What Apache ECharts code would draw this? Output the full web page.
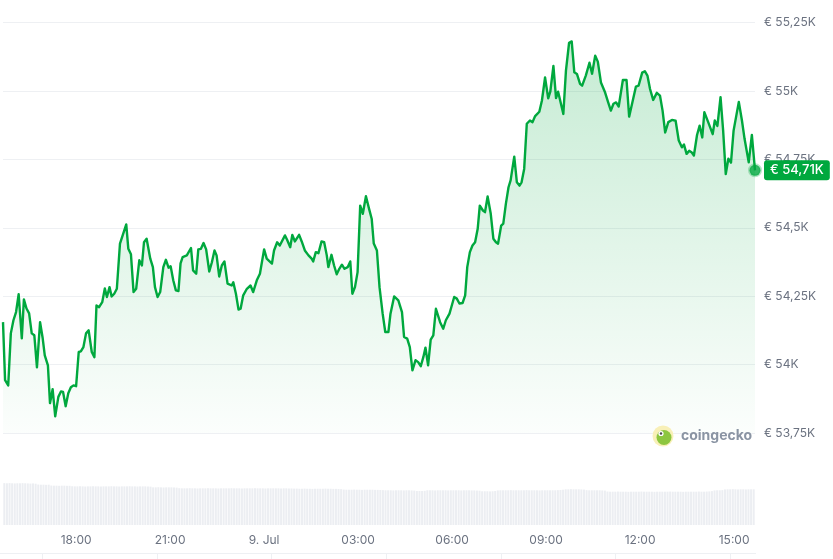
<!DOCTYPE html>
<html><head><meta charset="utf-8">
<script src="https://cdn.jsdelivr.net/npm/echarts/dist/echarts.min.js"></script>
<style>html,body{margin:0;padding:0;background:#fff}#c{width:833px;height:559px}</style>
</head><body><div id="c"></div>
<script>
// minutes since 8 Jul 15:40
const minutes = [0,4,10,15,20,25,30,36,40,45,50,55,60,65,71,76,80,86,90,95,100,106,111,115,120,125,130,135,140,145,149,154,159,164,170,175,179,184,190,195,199,204,208,213,218,224,236,240,245,250,255,261,266,270,275,282,287,291,296,301,307,312,317,321,326,331,336,340,344,352,360,364,370,374,379,384,389,395,400,405,409,414,419,424,430,438,441,446,451,455,460,467,474,479,486,492,500,505,515,519,525,530,540,544,550,554,559,567,572,578,585,591,594,599,604,610,615,620,623,629,634,639,644,649,654,660,665,669,674,679,684,689,695,701,706,710,716,721,727,732,738,742,749,757,764,768,774,779,784,790,795,800,805,809,814,819,824,829,837,843,848,855,859,864,869,874,880,885,889,894,899,904,909,913,919,923,928,934,939,944,948,954,958,963,968,972,979,984,989,993,998,1003,1009,1014,1019,1027,1032,1038,1044,1048,1054,1059,1063,1073,1078,1084,1089,1094,1099,1105,1109,1116,1123,1128,1134,1139,1145,1153,1159,1164,1169,1174,1179,1187,1194,1199,1206,1212,1217,1224,1229,1234,1239,1245,1252,1258,1263,1268,1274,1281,1288,1294,1300,1304,1309,1314,1319,1323,1329,1334,1339,1343,1350,1359,1363,1368,1374,1379,1384,1389,1394,1399,1409,1415,1420,1428,1434,1440];
const prices = [54155,53943,53924,54114,54162,54192,54257,54096,54238,54205,
54187,54114,54107,53990,54155,54096,54034,53997,53859,53910,
53811,53882,53902,53900,53848,53895,53917,53924,53921,54046,
54048,54064,54114,54125,54046,54027,54216,54210,54228,54278,
54247,54283,54249,54259,54277,54442,54512,54423,54403,54265,
54277,54381,54362,54447,54460,54387,54356,54283,54247,54265,
54356,54383,54354,54359,54308,54271,54269,54370,54393,54399,
54426,54344,54332,54421,54423,54444,54421,54340,54374,54417,
54399,54322,54362,54377,54296,54289,54301,54259,54201,54204,
54253,54277,54289,54265,54308,54332,54421,54387,54369,54417,
54447,54435,54472,54456,54429,54474,54450,54474,54450,54417,
54399,54387,54377,54411,54407,54450,54447,54399,54356,54401,
54362,54330,54350,54365,54350,54356,54377,54259,54283,54338,
54581,54551,54615,54569,54533,54442,54417,54283,54186,54119,
54119,54186,54249,54235,54192,54101,54095,54064,53979,54016,
54009,53994,54028,54062,53997,54091,54107,54204,54155,54131,
54162,54186,54213,54247,54241,54223,54225,54253,54356,54411,
54435,54447,54496,54581,54563,54557,54614,54551,54460,54447,
54442,54508,54515,54588,54648,54673,54760,54666,54654,54666,
54715,54880,54892,54886,54908,54924,54965,55049,54973,54997,
55091,54974,54997,54916,55074,55176,55181,55068,55062,55026,
55019,55056,55103,55063,55129,55107,55031,54994,54957,54928,
54953,54958,54943,55040,55040,54906,54965,55016,55019,55067,
55072,55056,55007,54967,54993,54983,54928,54848,54886,54894,
54891,54819,54794,54804,54770,54781,54775,54764,54839,54873,
54830,54922,54888,54842,54892,54872,54977,54855,54696,54752,
54738,54855,54960,54892,54825,54739,54839,54710];
// 5-minute volume bars (relative units)
const volumes = [29.9,29.8,29.9,29.8,29.7,29.8,29.8,29.9,29.8,29.7,29.6,29.7,29.5,
28.9,28.8,28.8,28.7,28.8,
28.2,28.1,28.1,28.0,28.1,28.1,28.0,28.0,
27.7,27.6,27.6,27.7,27.6,27.5,27.6,27.6,27.7,27.6,27.6,27.5,27.6,27.6,27.6,27.7,27.6,27.6,27.5,27.6,27.6,27.6,27.7,27.6,27.6,27.5,27.6,27.6,27.6,27.5,27.4,
26.9,26.9,27.0,26.9,26.8,26.9,26.9,26.9,26.8,26.7,
26.3,26.2,26.2,26.2,26.3,26.2,26.2,26.1,26.2,26.2,26.2,26.3,26.2,26.2,26.2,26.1,26.2,26.2,26.2,26.2,26.3,26.2,26.2,26.2,26.1,26.2,26.2,26.2,26.2,26.3,26.2,26.2,26.2,26.1,26.2,26.2,26.2,26.2,26.2,26.1,26.2,26.2,26.1,26.1,26.0,26.0,
25.9,25.9,26.0,25.9,25.9,25.8,25.9,25.9,25.9,25.9,26.0,25.9,25.9,25.8,25.8,25.7,25.6,
25.3,25.2,25.2,25.2,25.3,25.2,25.2,25.1,25.2,25.2,25.2,25.2,25.1,25.1,25.0,24.9,
24.8,24.8,24.8,24.7,24.8,24.8,24.8,24.7,24.8,24.8,24.7,24.6,
24.3,24.3,24.3,24.4,
24.8,24.8,24.8,24.7,24.8,24.8,24.8,24.8,24.7,24.8,24.8,24.8,24.8,24.7,24.8,24.8,24.8,24.7,24.7,24.6,24.5,
24.1,24.1,24.1,24.0,24.1,24.3,
24.7,24.8,24.8,24.8,24.8,24.9,24.8,24.8,24.8,24.8,24.8,24.9,24.8,24.8,24.8,24.8,24.7,24.8,24.8,24.8,24.8,24.8,24.8,24.9,25.0,25.2,
25.5,25.5,25.6,25.5,25.5,25.5,25.4,25.3,
24.9,24.8,24.8,24.8,24.8,24.8,24.7,24.6,
23.9,23.8,23.8,23.8,23.9,23.8,23.8,23.8,23.7,23.8,23.8,23.8,23.8,23.9,23.8,23.8,23.8,23.8,23.7,23.8,23.8,23.8,23.8,23.8,23.9,23.8,23.8,23.8,23.8,23.7,23.8,23.8,23.8,23.8,23.8,23.9,23.8,23.8,23.9,24.0,24.2,
24.7,24.8,24.8,24.9,
25.4,25.5,25.5,25.6,25.5,25.4,25.5,25.5,25.4,25.5,25.5,25.5];
const xTickMinutes = [140,320,500,680,860,1040,1220,1400];
const xTickLabels = ['18:00','21:00','9. Jul','03:00','06:00','09:00','12:00','15:00'];
const yMin = 53750, yMax = 55250, yStep = 250;

const GREEN = '#00a83e';
const FONT = 'Inter, "Noto Sans", sans-serif';
const fmtK = v => '€ ' + String(+(v/1000).toFixed(2)).replace('.', ',') + 'K';

const priceData = minutes.map((m, i) => [m, prices[i]]);
const volData = volumes.map((v, i) => [2.5 + i * 5, v]);
const last = priceData[priceData.length - 1];

const chart = echarts.init(document.getElementById('c'), null, {renderer: 'canvas'});
chart.setOption({
  animation: false,
  backgroundColor: '#ffffff',
  grid: [
    {left: 3, right: 78, top: 22.5, bottom: 126, outerBoundsMode: 'none', containLabel: false},
    {left: 3, right: 78, top: 455, bottom: 34, outerBoundsMode: 'none', containLabel: false}
  ],
  xAxis: [
    {gridIndex: 0, type: 'value', min: 0, max: 1440, show: true,
     axisLine: {show: false}, axisTick: {show: false}, axisLabel: {show: false}, splitLine: {show: false}},
    {gridIndex: 1, type: 'value', min: 0, max: 1440,
     axisLine: {show: false}, axisTick: {show: false}, splitLine: {show: false},
     axisLabel: {customValues: xTickMinutes, margin: 9, color: '#6b7280', fontSize: 12, fontFamily: FONT,
       formatter: v => xTickLabels[xTickMinutes.indexOf(v)] || ''}}
  ],
  yAxis: [
    {gridIndex: 0, type: 'value', position: 'right', min: yMin, max: yMax, interval: yStep,
     axisLine: {show: false}, axisTick: {show: false},
     splitLine: {show: true, lineStyle: {color: '#eef0f3', width: 1}},
     axisLabel: {margin: 9, color: '#6b7280', fontSize: 12, fontFamily: FONT, formatter: fmtK}},
    {gridIndex: 1, type: 'value', min: 0, max: 50, show: false, splitLine: {show: false}}
  ],
  series: [
    {type: 'bar', xAxisIndex: 1, yAxisIndex: 1, data: volData, barWidth: 2,
     itemStyle: {color: '#eceef2'}, silent: true},
    {type: 'line', xAxisIndex: 0, yAxisIndex: 0, data: priceData, showSymbol: false,
     lineStyle: {color: GREEN, width: 2.4, join: 'round'},
     areaStyle: {origin: 'start', color: new echarts.graphic.LinearGradient(0, 0, 0, 1, [
       {offset: 0, color: 'rgba(0,168,62,0.32)'},
       {offset: 1, color: 'rgba(0,168,62,0.02)'}])},
     endLabel: {show: true, distance: 9, formatter: () => fmtK(last[1]),
       backgroundColor: GREEN, color: '#ffffff', fontSize: 13, fontWeight: 500, fontFamily: FONT,
       padding: [4, 6, 3, 6], borderRadius: 3},
     z: 3},
    {type: 'scatter', xAxisIndex: 0, yAxisIndex: 0, data: [last], symbolSize: 11,
     itemStyle: {color: GREEN, borderColor: 'rgba(0,168,62,0.35)', borderWidth: 3}, z: 4, silent: true}
  ],
  graphic: [
    {type: 'circle', shape: {cx: 663, cy: 436, r: 10.5}, style: {fill: '#f8f0b8'}, z: 10},
    {type: 'circle', shape: {cx: 664, cy: 437.5, r: 7.5}, style: {fill: '#8dc63f'}, z: 11},
    {type: 'circle', shape: {cx: 661, cy: 433.5, r: 2.6}, style: {fill: '#ffffff'}, z: 12},
    {type: 'circle', shape: {cx: 661, cy: 433.5, r: 1.2}, style: {fill: '#4a4a4a'}, z: 13},
    {type: 'text', x: 681, y: 436, style: {text: 'coingecko', fill: '#8a94a3', font: 'bold 14px ' + FONT, textVerticalAlign: 'middle'}, z: 10},
    {type: 'line', shape: {x1: 0, y1: 553.5, x2: 756, y2: 553.5}, style: {stroke: '#eef0f3', lineWidth: 1}},
    {type: 'group', children: [42,157,271,386,501,615,730].map(x => ({type: 'line', shape: {x1: x + 0.5, y1: 554, x2: x + 0.5, y2: 559}, style: {stroke: '#eef0f3', lineWidth: 1}}))}
  ]
});
</script></body></html>
